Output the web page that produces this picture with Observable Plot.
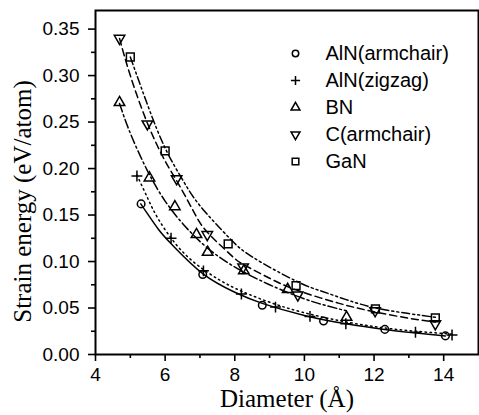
<!DOCTYPE html>
<html>
<head>
<meta charset="utf-8">
<script src="https://cdn.jsdelivr.net/npm/d3@7"></script>
<script src="https://cdn.jsdelivr.net/npm/@observablehq/plot@0.6"></script>
<style>
  html, body { margin: 0; padding: 0; background: #fff; }
</style>
</head>
<body>
<div id="chart"></div>
<script>
// ---------- data ----------
const seriesNames = ["AlN(armchair)", "AlN(zigzag)", "BN", "C(armchair)", "GaN"];

// measured points
const alnArmD = [5.31, 7.08, 8.79, 10.55, 12.31, 14.05];
const alnArmE = [0.162, 0.086, 0.053, 0.036, 0.027, 0.020];
const alnZigD = [5.19, 6.17, 7.10, 8.19, 9.17, 10.16, 11.19, 13.19, 14.24];
const alnZigE = [0.192, 0.125, 0.090, 0.065, 0.051, 0.041, 0.033, 0.024, 0.021];
const bnD = [4.69, 5.55, 6.28, 6.90, 7.22, 8.26, 9.52, 11.21];
const bnE = [0.271, 0.190, 0.159, 0.129, 0.110, 0.090, 0.070, 0.040];
const cArmD = [4.69, 5.49, 6.33, 7.21, 8.24, 9.81, 12.03, 13.76];
const cArmE = [0.340, 0.248, 0.189, 0.129, 0.094, 0.064, 0.047, 0.033];
const ganD = [5.00, 6.00, 7.81, 9.76, 12.04, 13.76];
const ganE = [0.320, 0.219, 0.119, 0.074, 0.049, 0.0395];

// fitted curves, sampled by eye along the drawn lines
const alnArmFitD = [5.3, 5.8, 6.2, 7.08, 8.0, 8.79, 10.0, 11.2, 12.3, 13.2, 14.05];
const alnArmFitE = [0.162, 0.135, 0.118, 0.087, 0.067, 0.055, 0.042, 0.033, 0.027, 0.023, 0.020];
const alnZigFitD = [5.19, 5.5, 5.8, 6.3, 6.9, 7.57, 8.2, 9.17, 10.2, 11.2, 12.2, 13.2, 14.24];
const alnZigFitE = [0.193, 0.168, 0.146, 0.119, 0.097, 0.080, 0.068, 0.054, 0.043, 0.035, 0.029, 0.025, 0.022];
const bnFitD = [4.69, 5.0, 5.5, 6.0, 6.5, 7.2, 8.24, 9.5, 10.4, 11.2];
const bnFitE = [0.270, 0.238, 0.197, 0.165, 0.141, 0.115, 0.089, 0.067, 0.055, 0.047];
const cArmFitD = [4.69, 5.0, 5.5, 6.0, 6.33, 6.8, 7.2, 7.86, 8.24, 9.0, 9.8, 11.0, 12.0, 13.0, 13.76];
const cArmFitE = [0.340, 0.300, 0.248, 0.208, 0.187, 0.155, 0.132, 0.108, 0.097, 0.082, 0.069, 0.055, 0.046, 0.039, 0.035];
const ganFitD = [5.0, 5.5, 6.0, 6.5, 7.0, 7.8, 8.5, 9.76, 10.5, 11.2, 12.05, 13.0, 13.76];
const ganFitE = [0.320, 0.268, 0.222, 0.188, 0.160, 0.127, 0.105, 0.079, 0.068, 0.059, 0.050, 0.044, 0.040];

// ticks and labels
const xMajorTicks = [4, 6, 8, 10, 12, 14];
const xMinorTicks = [5, 7, 9, 11, 13];
const yMajorTicks = [0, 0.05, 0.10, 0.15, 0.20, 0.25, 0.30, 0.35];
const yMinorTicks = [0.025, 0.075, 0.125, 0.175, 0.225, 0.275, 0.325];
const xTitle = "Diameter (Å)";
const yTitle = "Strain energy (eV/atom)";

// ---------- build tables ----------
const pointSets = [[alnArmD, alnArmE], [alnZigD, alnZigE], [bnD, bnE], [cArmD, cArmE], [ganD, ganE]];
const fitSets = [[alnArmFitD, alnArmFitE], [alnZigFitD, alnZigFitE], [bnFitD, bnFitE], [cArmFitD, cArmFitE], [ganFitD, ganFitE]];
const toRows = ([xs, ys], i) => xs.map((d, j) => ({series: seriesNames[i], d, e: ys[j]}));
const pointRows = pointSets.map(toRows);
const fitRows = fitSets.map(toRows);

// inverted triangle symbol
const triangleDown = {
  draw(context, size) {
    const y = -Math.sqrt(size / (3 * Math.sqrt(3)));
    context.moveTo(0, -y * 2);
    context.lineTo(-Math.sqrt(3) * y, y);
    context.lineTo(Math.sqrt(3) * y, y);
    context.closePath();
  }
};

const symbols = ["circle", "plus", "triangle", triangleDown, "square"];
const symbolR = [3.8, 3.6, 3.9, 3.9, 4.4];
const dashes = [null, "1.5,3.5", "9,3,2,3", "7,4", "8,3,2,3,2,3"];

const marks = [];
marks.push(Plot.frame({stroke: "black", strokeWidth: 2}));
marks.push(Plot.axisX({ticks: xMajorTicks, tickSize: 7, tickPadding: 6, tickFormat: d => String(d), label: null, strokeWidth: 1.6, fontSize: 19}));
marks.push(Plot.axisX({ticks: xMinorTicks, tickSize: 4, tickFormat: () => "", label: null, strokeWidth: 1.6}));
marks.push(Plot.axisY({ticks: yMajorTicks, tickSize: 7, tickPadding: 9, tickFormat: d3.format(".2f"), label: null, strokeWidth: 1.6, fontSize: 19}));
marks.push(Plot.axisY({ticks: yMinorTicks, tickSize: 4, tickFormat: () => "", label: null, strokeWidth: 1.6}));

fitRows.forEach((rows, i) => {
  const opts = {x: "d", y: "e", stroke: "black", strokeWidth: 1.5, curve: "natural"};
  if (dashes[i]) opts.strokeDasharray = dashes[i];
  marks.push(Plot.line(rows, opts));
});

pointRows.forEach((rows, i) => {
  marks.push(Plot.dot(rows, {x: "d", y: "e", symbol: symbols[i], r: symbolR[i], stroke: "black", strokeWidth: 1.5, fill: "none"}));
});

// legend
seriesNames.forEach((name, i) => {
  const dy = 43 + i * 27;
  marks.push(Plot.dot([name], {frameAnchor: "top-left", dx: 200, dy, symbol: symbols[i], r: symbolR[i] * 0.85, stroke: "black", strokeWidth: 1.5, fill: "none"}));
  marks.push(Plot.text([name], {frameAnchor: "top-left", dx: 230, dy, text: d => d, textAnchor: "start", lineAnchor: "middle", fontSize: 20, fill: "black"}));
});

// axis titles
marks.push(Plot.text([xTitle], {frameAnchor: "bottom", dy: 44, text: d => d, textAnchor: "middle", lineAnchor: "middle", fontFamily: "'Liberation Serif', 'Times New Roman', serif", fontSize: 25, fill: "black"}));
marks.push(Plot.text([yTitle], {frameAnchor: "left", dx: -73, dy: 19, rotate: -90, text: d => d, textAnchor: "middle", lineAnchor: "middle", fontFamily: "'Liberation Serif', 'Times New Roman', serif", fontSize: 25, fill: "black"}));

const chart = Plot.plot({
  width: 479,
  height: 415,
  marginLeft: 95,
  marginRight: 1,
  marginTop: 10,
  marginBottom: 61,
  x: {domain: [4, 15]},
  y: {domain: [0, 0.37]},
  style: {fontFamily: "'Liberation Sans', Arial, sans-serif", fontSize: "18px", background: "white", color: "black"},
  marks
});
document.getElementById("chart").append(chart);
</script>
</body>
</html>
